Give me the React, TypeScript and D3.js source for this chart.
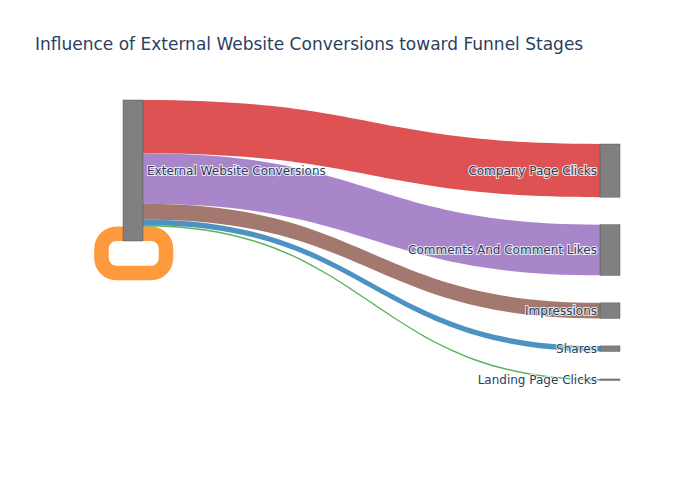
import React from "react";
import * as d3 from "d3";

// nodes and links of the funnel sankey
const nodeNames = [
  "External Website Conversions",
  "Company Page Clicks",
  "Comments And Comment Likes",
  "Impressions",
  "Shares",
  "Landing Page Clicks",
];
const linkSources = [0, 0, 0, 0, 0, 0];
const linkTargets = [4, 0, 5, 1, 2, 3];
const linkValues = [110, 290, 30, 1060, 1010, 310];
const linkColors = ["#1f77b4", "#ff7f0e", "#2ca02c", "#d62728", "#9467bd", "#8c564b"];

const title = "Influence of External Website Conversions toward Funnel Stages";

const W = 700;
const H = 500;
const nodeW = 20;
const colX = [123, 600];
const colTop = [100, 144];
const nodePad = 27.5;

interface NodeL {
  name: string;
  col: number;
  value: number;
  x0: number;
  x1: number;
  y0: number;
  y1: number;
}
interface LinkL {
  s: number;
  t: number;
  value: number;
  color: string;
  w: number;
  sy: number;
  ty: number;
}

function layout() {
  const inV = nodeNames.map(() => 0);
  const outV = nodeNames.map(() => 0);
  linkValues.forEach((v, i) => {
    outV[linkSources[i]] += v;
    inV[linkTargets[i]] += v;
  });
  const vals = nodeNames.map((_, i) => Math.max(inV[i], outV[i]));
  const col = nodeNames.map((_, i) => (outV[i] > 0 ? 0 : 1));
  const k = d3.scaleLinear().domain([0, vals[0]]).range([0, 141]);

  const nodes: NodeL[] = nodeNames.map((name, i) => ({
    name,
    col: col[i],
    value: vals[i],
    x0: colX[col[i]],
    x1: colX[col[i]] + nodeW,
    y0: 0,
    y1: 0,
  }));
  [0, 1].forEach((c) => {
    let y = colTop[c];
    nodes.forEach((n) => {
      if (n.col !== c) return;
      n.y0 = y;
      n.y1 = y + k(n.value);
      y = n.y1 + nodePad;
    });
  });

  const links: LinkL[] = linkValues.map((v, i) => ({
    s: linkSources[i],
    t: linkTargets[i],
    value: v,
    color: linkColors[i],
    w: k(v),
    sy: 0,
    ty: 0,
  }));
  const circ = (l: LinkL) => l.s === l.t;
  // stack at sources: by target position, circular links last
  nodes.forEach((n, ni) => {
    const outs = links
      .filter((l) => l.s === ni)
      .sort((a, b) => (circ(a) ? 1 : 0) - (circ(b) ? 1 : 0) || nodes[a.t].y0 - nodes[b.t].y0);
    let y = n.y0;
    outs.forEach((l) => {
      l.sy = y + l.w / 2;
      y += l.w;
    });
    const ins = links.filter((l) => l.t === ni && !circ(l)).sort((a, b) => nodes[a.s].y0 - nodes[b.s].y0);
    y = n.y0;
    ins.forEach((l) => {
      l.ty = y + l.w / 2;
      y += l.w;
    });
  });
  links.forEach((l) => {
    if (circ(l)) l.ty = l.sy;
  });
  return { nodes, links };
}

function linkPath(l: LinkL, nodes: NodeL[]) {
  const x0 = nodes[l.s].x1;
  const x1 = nodes[l.t].x0;
  const xi = d3.interpolateNumber(x0, x1);
  const x2 = xi(0.5);
  const x3 = xi(0.5);
  const a0 = l.sy - l.w / 2, b0 = l.sy + l.w / 2;
  const a1 = l.ty - l.w / 2, b1 = l.ty + l.w / 2;
  return `M${x0},${a0}C${x2},${a0} ${x3},${a1} ${x1},${a1}L${x1},${b1}C${x3},${b1} ${x2},${b0} ${x0},${b0}Z`;
}

function loopPath(l: LinkL, n: NodeL) {
  const r = 15;
  const yc = l.sy;
  const xr = n.x1 + 23;
  const xl = n.x0 - 21.5;
  const yb = n.y1 + 32;
  return (
    `M${n.x1},${yc}L${xr - r},${yc}A${r},${r} 0 0 1 ${xr},${yc + r}` +
    `L${xr},${yb - r}A${r},${r} 0 0 1 ${xr - r},${yb}` +
    `L${xl + r},${yb}A${r},${r} 0 0 1 ${xl},${yb - r}` +
    `L${xl},${yc + r}A${r},${r} 0 0 1 ${xl + r},${yc}L${n.x0},${yc}`
  );
}

export default function App() {
  const { nodes, links } = layout();
  const font = "'DejaVu Sans', verdana, arial, sans-serif";
  return (
    <svg width={W} height={H} style={{ display: "block", position: "absolute", left: 0, top: 0, background: "#fff" }}>
      <text x={35} y={50} fontFamily={font} fontSize={17} fill="#2a3f5f">
        {title}
      </text>
      <g>
        {links.map((l, i) =>
          l.s === l.t ? (
            <path key={i} d={loopPath(l, nodes[l.s])} fill="none" stroke={l.color} strokeOpacity={0.8} strokeWidth={l.w} />
          ) : (
            <path key={i} d={linkPath(l, nodes)} fill={l.color} fillOpacity={0.8} />
          )
        )}
      </g>
      <g>
        {nodes.map((n, i) => (
          <rect
            key={i}
            x={n.x0}
            y={n.y0}
            width={nodeW}
            height={Math.max(n.y1 - n.y0, 1)}
            fill="#808080"
            stroke="#444"
            strokeWidth={0.5}
            strokeOpacity={0.8}
          />
        ))}
      </g>
      <g>
        {nodes.map((n, i) => (
          <text
            key={i}
            x={n.col === 0 ? n.x1 + 4 : n.x0 - 3}
            y={(n.y0 + n.y1) / 2}
            dy="0.35em"
            textAnchor={n.col === 0 ? "start" : "end"}
            fontFamily={font}
            fontSize={12}
            fill="#2a3f5f"
            stroke="#fff"
            strokeWidth={2}
            strokeOpacity={0.8}
            paintOrder="stroke"
          >
            {n.name}
          </text>
        ))}
      </g>
    </svg>
  );
}
